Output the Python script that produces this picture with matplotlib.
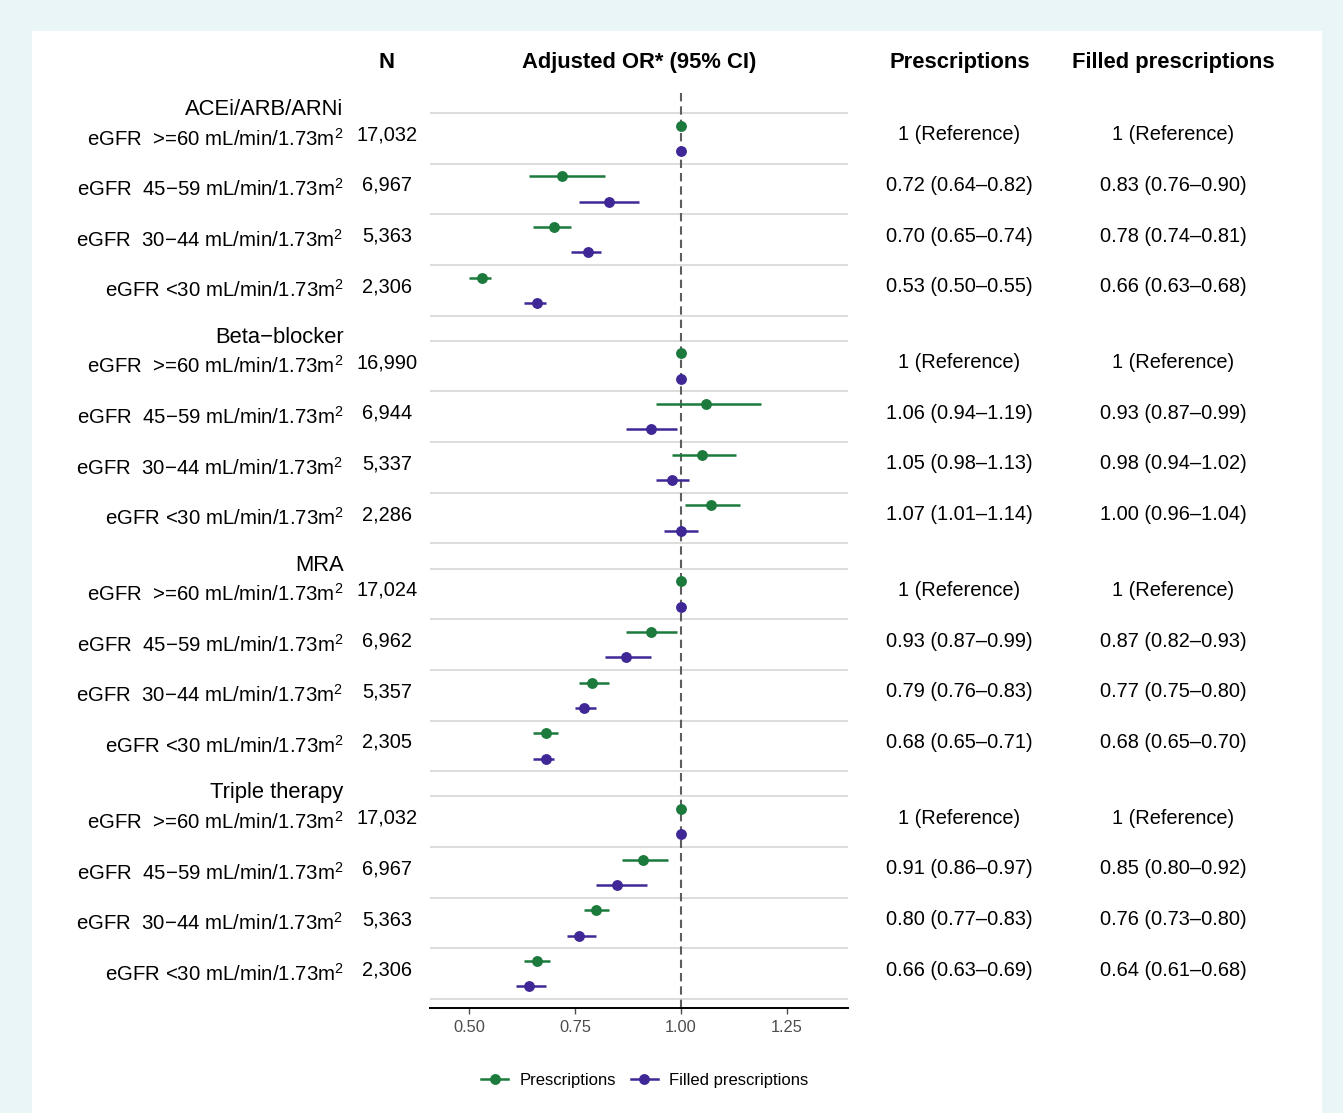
import matplotlib
matplotlib.use("Agg")
import matplotlib.pyplot as plt
import matplotlib.transforms as mtransforms
from matplotlib.lines import Line2D
from matplotlib.patches import Rectangle

plt.rcParams["font.family"] = ["Liberation Sans", "DejaVu Sans"]
plt.rcParams["mathtext.fontset"] = "custom"
plt.rcParams["mathtext.rm"] = "Liberation Sans"
plt.rcParams["mathtext.it"] = "Liberation Sans:italic"
plt.rcParams["mathtext.bf"] = "Liberation Sans:bold"

# ---- data ----
groups = ["ACEi/ARB/ARNi", "Beta\u2212blocker", "MRA", "Triple therapy"]
strata = [
    "eGFR  >=60 mL/min/1.73m$^{2}$",
    "eGFR  45\u221259 mL/min/1.73m$^{2}$",
    "eGFR  30\u221244 mL/min/1.73m$^{2}$",
    "eGFR <30 mL/min/1.73m$^{2}$",
]
n_counts = [
    [17032, 6967, 5363, 2306],
    [16990, 6944, 5337, 2286],
    [17024, 6962, 5357, 2305],
    [17032, 6967, 5363, 2306],
]
# (estimate, lower, upper); first stratum is the reference
presc = [
    [(1, 1, 1), (0.72, 0.64, 0.82), (0.70, 0.65, 0.74), (0.53, 0.50, 0.55)],
    [(1, 1, 1), (1.06, 0.94, 1.19), (1.05, 0.98, 1.13), (1.07, 1.01, 1.14)],
    [(1, 1, 1), (0.93, 0.87, 0.99), (0.79, 0.76, 0.83), (0.68, 0.65, 0.71)],
    [(1, 1, 1), (0.91, 0.86, 0.97), (0.80, 0.77, 0.83), (0.66, 0.63, 0.69)],
]
filled = [
    [(1, 1, 1), (0.83, 0.76, 0.90), (0.78, 0.74, 0.81), (0.66, 0.63, 0.68)],
    [(1, 1, 1), (0.93, 0.87, 0.99), (0.98, 0.94, 1.02), (1.00, 0.96, 1.04)],
    [(1, 1, 1), (0.87, 0.82, 0.93), (0.77, 0.75, 0.80), (0.68, 0.65, 0.70)],
    [(1, 1, 1), (0.85, 0.80, 0.92), (0.76, 0.73, 0.80), (0.64, 0.61, 0.68)],
]
xticks = [0.50, 0.75, 1.00, 1.25]

green = "#1B7A3C"
purple = "#3F2896"
W, H = 1343, 1113
PX = 50.63  # pixels per row unit


def fmt(ci):
    est, lo, hi = ci
    if est == 1 and lo == 1 and hi == 1:
        return "1 (Reference)"
    return f"{est:.2f} ({lo:.2f}\u2013{hi:.2f})"


fig = plt.figure(figsize=(W / 100, H / 100), dpi=100)
fig.patch.set_facecolor("#EAF5F8")
fig.patches.append(Rectangle((32 / W, 0), (1322 - 32) / W, 1 - 31 / H,
                             transform=fig.transFigure, facecolor="white",
                             edgecolor="none", zorder=-10))

ax = fig.add_axes([430 / W, 1 - 1008 / H, (847.7 - 430) / W, (1008 - 89) / H])
ax.set_facecolor("none")

# row layout: header band of 0.5, each stratum 1 unit
layout = []
pos = 0.0
for g in range(len(groups)):
    header_top = pos
    pos += 0.5
    rows = []
    for r in range(len(strata)):
        rows.append(pos)
        pos += 1.0
    layout.append((header_top, rows))
y_end = pos

ax.set_xlim(0.407, 1.394)
ax.set_ylim(y_end + 9 / PX, 1.3 / PX)

# grid lines at row boundaries
bounds = set()
for header_top, rows in layout:
    for rt in rows:
        bounds.add(rt)
        bounds.add(rt + 1)
for b in sorted(bounds):
    ax.axhline(b, color="#DADADA", lw=1.3, zorder=1)

ax.axvline(1.0, color="#5E5E5E", lw=1.5, dashes=(4, 2.4), zorder=2)

for g, (header_top, rows) in enumerate(layout):
    for r, rt in enumerate(rows):
        for ci, dy, col in ((presc[g][r], 0.25, green), (filled[g][r], 0.75, purple)):
            est, lo, hi = ci
            ax.plot([lo, hi], [rt + dy, rt + dy], color=col, lw=1.8,
                    solid_capstyle="butt", zorder=3)
            ax.plot(est, rt + dy, "o", color=col, ms=6.8, mec=col, zorder=4)

for s in ("left", "right", "top"):
    ax.spines[s].set_visible(False)
ax.spines["bottom"].set_linewidth(1.4)
ax.spines["bottom"].set_color("black")
ax.set_yticks([])
ax.set_xticks(xticks)
ax.set_xticklabels([f"{t:.2f}" for t in xticks])
ax.tick_params(axis="x", colors="#4D4D4D", labelsize=11.8, length=4, width=1.0,
               pad=5)

# ---- text columns ----
tr = mtransforms.blended_transform_factory(fig.transFigure, ax.transData)
fs = 14.4
x_lab, x_n, x_p, x_f = 343.5 / W, 387 / W, 959.5 / W, 1173.5 / W
for g, (header_top, rows) in enumerate(layout):
    ax.text(x_lab, header_top + 0.5 + 2 / PX, groups[g], transform=tr,
            ha="right", va="baseline", fontsize=15.8)
    for r, rt in enumerate(rows):
        mid = rt + 0.5
        ax.text(x_lab, mid + 7 / PX, strata[r], transform=tr, ha="right",
                va="baseline", fontsize=14.7)
        ax.text(x_n, mid + 2 / PX, f"{n_counts[g][r]:,}", transform=tr,
                ha="center", va="baseline", fontsize=fs)
        ax.text(x_p, mid + 2 / PX, fmt(presc[g][r]), transform=tr,
                ha="center", va="baseline", fontsize=fs)
        ax.text(x_f, mid + 2 / PX, fmt(filled[g][r]), transform=tr,
                ha="center", va="baseline", fontsize=fs)

hy = 1 - 68 / H
for x, t in ((386 / W, "N"), (638.8 / W, "Adjusted OR* (95% CI)"),
             (x_p, "Prescriptions"), (x_f, "Filled prescriptions")):
    fig.text(x, hy, t, ha="center", va="baseline", fontsize=15.8,
             fontweight="bold")

handles = [
    Line2D([], [], color=green, lw=1.8, marker="o", ms=6.8, label="Prescriptions"),
    Line2D([], [], color=purple, lw=1.8, marker="o", ms=6.8,
           label="Filled prescriptions"),
]
fig.legend(handles=handles, loc="center", bbox_to_anchor=(645 / W, 1 - 1080 / H),
           ncol=2, frameon=False, fontsize=12, handlelength=1.6,
           handletextpad=0.7, columnspacing=0.9)

fig.savefig("out.png", dpi=100, facecolor=fig.get_facecolor())
